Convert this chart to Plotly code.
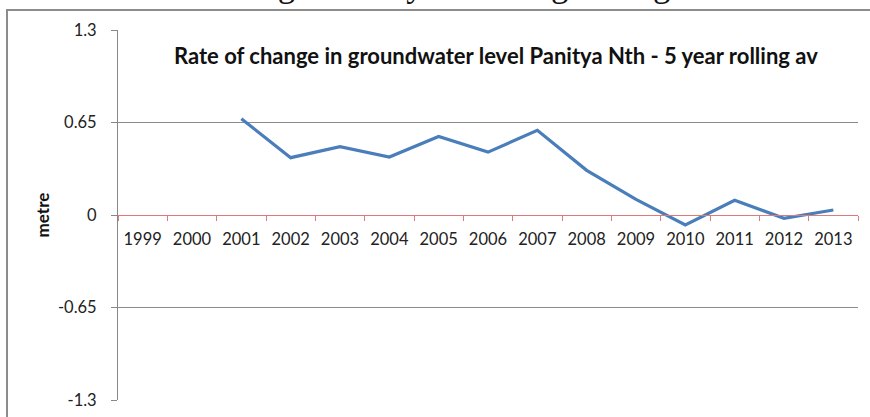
import plotly.graph_objects as go

years = ['1999', '2000', '2001', '2002', '2003', '2004', '2005', '2006',
         '2007', '2008', '2009', '2010', '2011', '2012', '2013']
rate = [None, None, 0.677, 0.403, 0.480, 0.407, 0.552, 0.442,
        0.595, 0.314, 0.110, -0.070, 0.103, -0.023, 0.035]
y_ticks = [-1.3, -0.65, 0, 0.65, 1.3]
y_labels = ['-1.3', '-0.65', '0', '0.65', '1.3']

fig = go.Figure()
fig.add_trace(go.Scatter(
    x=years,
    y=rate,
    mode='lines',
    line=dict(color='#4A7EBB', width=3.2),
    connectgaps=False,
    showlegend=False
))

fig.update_layout(
    width=870,
    height=417,
    margin=dict(l=118, r=12, t=30, b=17, autoexpand=False),
    paper_bgcolor='white',
    plot_bgcolor='white',
    font=dict(family='Lato, Open Sans, sans-serif', color='#222222'),
    xaxis=dict(
        type='category',
        anchor='free',
        position=0.5,
        automargin=False,
        showline=True,
        linecolor='#E07A7A',
        linewidth=1,
        ticks='outside',
        ticklen=5,
        tickcolor='#E07A7A',
        tickson='boundaries',
        showgrid=False,
        tickfont=dict(size=16.5, color='#222222'),
        ticklabelstandoff=9,
        range=[-0.5, 14.5]
    ),
    yaxis=dict(
        range=[-1.3, 1.3],
        automargin=False,
        tickvals=y_ticks,
        ticktext=y_labels,
        showline=True,
        linecolor='#888888',
        linewidth=1,
        ticks='outside',
        ticklen=6,
        tickcolor='#888888',
        showgrid=True,
        gridcolor='#8C8C8C',
        gridwidth=1,
        zeroline=False,
        tickfont=dict(size=16.5, color='#222222'),
        ticklabelstandoff=11,
        title=dict(text='<b>metre</b>', font=dict(size=17, color='#111111'), standoff=4)
    ),
    annotations=[
        dict(
            text='<b>Rate of change in groundwater level Panitya Nth - 5 year rolling av</b>',
            xref='paper', yref='paper',
            x=(496 - 118) / 740, y=(400 - 56) / 370,
            xanchor='center', yanchor='middle',
            showarrow=False,
            font=dict(size=22, color='#111111')
        ),
        # caption of the page above the chart, cut off by the frame
        dict(
            text='Rate of change in a 5 year rolling average',
            xref='paper', yref='paper',
            x=(99 - 118) / 740, y=(400 - 6) / 370,
            xanchor='left', yanchor='bottom',
            showarrow=False,
            font=dict(family='Liberation Serif, serif', size=35, color='#111111')
        ),
    ],
    shapes=[
        dict(type='line', xref='paper', yref='paper',
             x0=(6 - 118) / 740, x1=(870 - 118) / 740,
             y0=(400 - 10) / 370, y1=(400 - 10) / 370,
             line=dict(color='#8C8C8C', width=2)),
        dict(type='line', xref='paper', yref='paper',
             x0=(7 - 118) / 740, x1=(7 - 118) / 740,
             y0=(400 - 10) / 370, y1=(400 - 420) / 370,
             line=dict(color='#8C8C8C', width=2)),
    ]
)

fig.write_html("out.html", config={'displayModeBar': False},
               post_script="document.body.style.margin = '0';")
